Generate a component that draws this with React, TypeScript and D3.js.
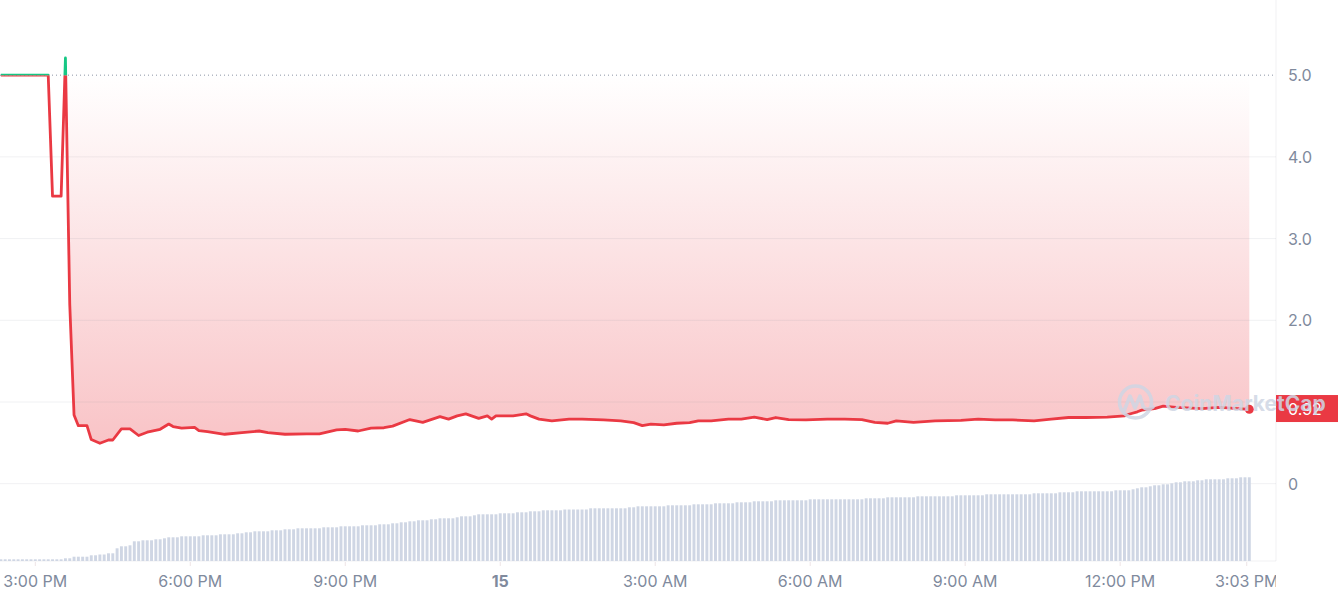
import React from "react";
import * as d3 from "d3";

// ---- time frame ----
const START = "2024-05-14T14:19:00";
const END = "2024-05-15T15:01:00";
const FIRST_SLOT = "2024-05-14T14:20:00";
const SLOT_MINUTES = 5;

// ---- axes ----
const PRICE_TICKS = [0, 1, 2, 3, 4, 5];
const PRICE_TICK_LABELS = ["0", "1.0", "2.0", "3.0", "4.0", "5.0"];
const BASELINE_PRICE = 5.0;
const LAST_PRICE_LABEL = "0.92";

const TIME_TICKS = [
  "2024-05-14T15:00:00",
  "2024-05-14T18:00:00",
  "2024-05-14T21:00:00",
  "2024-05-15T00:00:00",
  "2024-05-15T03:00:00",
  "2024-05-15T06:00:00",
  "2024-05-15T09:00:00",
  "2024-05-15T12:00:00",
  "2024-05-15T14:27:00",
];
const TIME_TICK_LABELS = ["3:00 PM", "6:00 PM", "9:00 PM", "15", "3:00 AM", "6:00 AM", "9:00 AM", "12:00 PM", "3:03 PM"];
const TIME_TICK_BOLD = [false, false, false, true, false, false, false, false, false];

// ---- price series (5-minute slot index, price) ----
const PRICE_SLOTS = [
  0, 11, 12, 14, 15, 16, 17, 18, 20, 21,
  23, 25, 26, 28, 30, 32, 34, 37, 39, 40,
  42, 45, 46, 48, 52, 56, 60, 62, 66, 71,
  74, 78, 80, 83, 86, 89, 91, 95, 98, 102,
  104, 106, 108, 111, 113, 114, 115, 119, 122, 123,
  125, 128, 132, 135, 140, 144, 147, 149, 151, 154,
  157, 160, 162, 165, 169, 172, 175, 178, 180, 183,
  187, 192, 196, 200, 203, 206, 208, 212, 217, 223,
  227, 231, 235, 240, 244, 248, 252, 257, 261, 262,
  264, 265, 268, 270, 273, 279, 283, 290,
];
const PRICE_VALUES = [
  5.0, 5.0, 3.52, 3.52, 5.21, 2.2, 0.84, 0.71, 0.71, 0.54,
  0.495, 0.535, 0.535, 0.67, 0.67, 0.59, 0.63, 0.666, 0.73, 0.7,
  0.68, 0.69, 0.65, 0.637, 0.605, 0.625, 0.645, 0.625, 0.605, 0.61,
  0.61, 0.66, 0.666, 0.645, 0.68, 0.685, 0.705, 0.785, 0.75, 0.82,
  0.79, 0.83, 0.855, 0.8, 0.83, 0.79, 0.83, 0.83, 0.855, 0.83,
  0.79, 0.77, 0.79, 0.79, 0.78, 0.77, 0.747, 0.71, 0.73, 0.72,
  0.74, 0.747, 0.77, 0.77, 0.79, 0.79, 0.815, 0.785, 0.81, 0.785,
  0.78, 0.79, 0.79, 0.785, 0.75, 0.74, 0.77, 0.75, 0.77, 0.775,
  0.79, 0.78, 0.78, 0.77, 0.79, 0.81, 0.81, 0.815, 0.83, 0.85,
  0.88, 0.9, 0.92, 0.95, 0.935, 0.92, 0.935, 0.91,
];
const FILL_FROM_SLOT = 15;

// ---- volume bars, run-length encoded (value, number of consecutive 5-min bars) ----
const VOLUME_RUN_VALUES = [
  1.7, 2.7, 4.3, 5.7, 6.5, 7.7, 12.7, 14.7, 15.7, 19.7,
  20.7, 21.7, 22.7, 23.7, 24.7, 25.7, 26.7, 27.7, 28.7, 29.7,
  30.7, 31.7, 32.7, 33.7, 34.7, 35.7, 36.7, 37.7, 38.7, 39.7,
  40.7, 41.7, 42.7, 43.7, 44.7, 45.7, 46.7, 47.7, 48.7, 49.7,
  50.7, 51.5, 52.7, 53.7, 54.7, 55.7, 56.7, 57.7, 58.7, 59.7,
  60.7, 61.7, 62.7, 63.7, 64.7, 65.7, 66.7, 67.7, 68.7, 69.7,
  70.7, 71.7, 72.7, 73.7, 74.7, 75.7, 76.7, 77.7, 78.7, 79.7,
  80.7, 81.7, 82.7, 83.7,
];
const VOLUME_RUN_COUNTS = [
  15, 2, 4, 2, 2, 2, 1, 2, 1, 2,
  3, 2, 1, 3, 5, 4, 4, 2, 2, 4,
  3, 3, 6, 4, 5, 4, 3, 2, 2, 2,
  3, 2, 4, 1, 3, 1, 5, 4, 3, 3,
  5, 6, 9, 2, 7, 6, 5, 5, 4, 5,
  8, 13, 5, 7, 9, 7, 11, 6, 4, 9,
  4, 1, 1, 2, 1, 2, 2, 1, 2, 3,
  2, 5, 3, 3,
];

const RED = "#ea3943";
const GREEN = "#16c784";
const TEXT = "#808a9d";
const GRID = "rgba(128,138,157,0.12)";
const BAR = "#cfd6e4";
const FONT = "Inter, 'Noto Sans', sans-serif";

export default function App() {
  const W = 1338;
  const H = 600;
  const plotRight = 1276;
  const volBottom = 561;

  const slotTime = (k: number) => d3.timeMinute.offset(new Date(FIRST_SLOT), k * SLOT_MINUTES);

  const x = d3.scaleTime().domain([new Date(START), new Date(END)]).range([0, plotRight]);
  const y = d3.scaleLinear().domain([0, 5.92]).range([483.7, 0]);

  const volumes: number[] = [];
  VOLUME_RUN_VALUES.forEach((v, i) => {
    for (let j = 0; j < VOLUME_RUN_COUNTS[i]; j++) volumes.push(v);
  });
  const yv = d3.scaleLinear().domain([0, d3.max(volumes) as number]).range([volBottom, 477.3]);

  const pts = PRICE_SLOTS.map((s, i) => ({ t: slotTime(s), v: PRICE_VALUES[i], s }));
  const yBase = y(BASELINE_PRICE);

  const line = d3
    .line<{ t: Date; v: number }>()
    .x((d) => x(d.t))
    .y((d) => y(d.v));
  const area = d3
    .area<{ t: Date; v: number }>()
    .x((d) => x(d.t))
    .y0(yBase)
    .y1((d) => y(d.v));

  const linePath = line(pts) || "";
  const areaPath = area(pts.filter((p) => p.s >= FILL_FROM_SLOT)) || "";
  const minPrice = d3.min(PRICE_VALUES) as number;

  const step = x(slotTime(1)) - x(slotTime(0));
  const barW = step * 0.68;
  const last = pts[pts.length - 1];
  const yLast = y(parseFloat(LAST_PRICE_LABEL));
  const boxH = 27;

  return (
    <svg
      width={W}
      height={H}
      style={{ position: "absolute", left: 0, top: 0, background: "#fff" }}
      fontFamily={FONT}
    >
      <defs>
        <linearGradient id="redFill" gradientUnits="userSpaceOnUse" x1={0} y1={yBase} x2={0} y2={y(minPrice)}>
          <stop offset="0" stopColor={RED} stopOpacity={0} />
          <stop offset="1" stopColor={RED} stopOpacity={0.3} />
        </linearGradient>
        <clipPath id="above">
          <rect x={0} y={0} width={plotRight} height={yBase} />
        </clipPath>
        <clipPath id="below">
          <rect x={0} y={yBase} width={plotRight} height={H - yBase} />
        </clipPath>
        <clipPath id="xlabels">
          <rect x={0} y={0} width={plotRight} height={H} />
        </clipPath>
      </defs>

      {/* area fill */}
      <path d={areaPath} fill="url(#redFill)" clipPath="url(#below)" />

      {/* grid lines */}
      {PRICE_TICKS.filter((t) => t !== BASELINE_PRICE).map((t) => (
        <line key={"g" + t} x1={0} x2={plotRight} y1={y(t)} y2={y(t)} stroke={GRID} strokeWidth={1} />
      ))}
      <line x1={0} x2={plotRight} y1={volBottom} y2={volBottom} stroke={GRID} strokeWidth={1} />
      <line x1={plotRight} x2={plotRight} y1={0} y2={volBottom} stroke={GRID} strokeWidth={1} />

      {/* volume bars */}
      {volumes.map((v, i) => {
        const cx = x(slotTime(i));
        return (
          <rect key={"b" + i} x={cx - barW / 2} y={yv(v)} width={barW} height={volBottom - yv(v)} fill={BAR} />
        );
      })}

      {/* baseline dotted */}
      <line
        x1={0}
        x2={plotRight}
        y1={yBase}
        y2={yBase}
        stroke={TEXT}
        strokeWidth={1}
        strokeDasharray="1 3"
        opacity={0.9}
      />

      {/* price line */}
      <path d={linePath} fill="none" stroke={RED} strokeWidth={2.8} strokeLinejoin="round" clipPath="url(#below)" />
      <path d={linePath} fill="none" stroke={GREEN} strokeWidth={2.8} strokeLinejoin="round" clipPath="url(#above)" />
      <circle cx={x(last.t)} cy={y(last.v)} r={4.5} fill={RED} />

      {/* x axis */}
      <g clipPath="url(#xlabels)">
        {TIME_TICKS.map((t, i) => {
          const tx = x(new Date(t));
          return (
            <g key={"xt" + i}>
              <line x1={tx} x2={tx} y1={volBottom + 1} y2={volBottom + 5} stroke="#eee4e6" strokeWidth={1} />
              <text
                x={tx}
                y={581}
                textAnchor="middle"
                dominantBaseline="central"
                fontSize={16}
                fontWeight={TIME_TICK_BOLD[i] ? 700 : 400}
                fill={TEXT}
              >
                {TIME_TICK_LABELS[i]}
              </text>
            </g>
          );
        })}
      </g>

      {/* y axis labels (those hidden by the last-price box are skipped) */}
      {PRICE_TICKS.map((t, i) =>
        Math.abs(y(t) - yLast) < boxH / 2 + 6 ? null : (
          <text key={"yl" + t} x={1288} y={y(t)} dominantBaseline="central" fontSize={16} fill={TEXT}>
            {PRICE_TICK_LABELS[i]}
          </text>
        )
      )}

      {/* last price label */}
      <rect x={plotRight} y={yLast - boxH / 2} width={W - plotRight} height={boxH} fill={RED} />
      <text x={1288} y={yLast} dominantBaseline="central" fontSize={16} fill="#fff">
        {LAST_PRICE_LABEL}
      </text>

      {/* watermark */}
      <g opacity={0.85}>
        <circle cx={1135.5} cy={402} r={16} fill="none" stroke={BAR} strokeWidth={3.5} />
        <path
          d="M1124,411 L1130,396 L1135,408 L1140,396 L1143,406 Q1146,412 1153,407"
          fill="none"
          stroke={BAR}
          strokeWidth={3.5}
          strokeLinejoin="round"
          strokeLinecap="round"
        />
        <text x={1165} y={403} dominantBaseline="central" fontSize={21} fontWeight={700} fill={BAR}>
          CoinMarketCap
        </text>
      </g>
    </svg>
  );
}
